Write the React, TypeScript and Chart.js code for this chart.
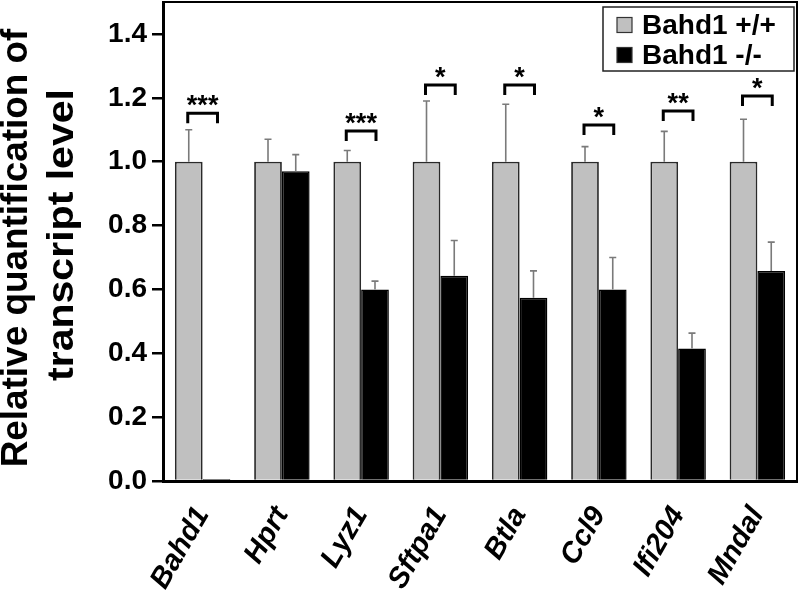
import React, { useEffect, useRef } from "react";
import { Chart, registerables } from "chart.js";

Chart.register(...registerables);

const categories = ["Bahd1", "Hprt", "Lyz1", "Sftpa1", "Btla", "Ccl9", "Ifi204", "Mndal"];
const wildType = [1, 1, 1, 1, 1, 1, 1, 1];
const wildTypeErr = [0.1, 0.07, 0.035, 0.19, 0.18, 0.047, 0.095, 0.133];
const knockout = [0.006, 0.97, 0.6, 0.643, 0.574, 0.6, 0.415, 0.658];
const knockoutErr = [0, 0.052, 0.026, 0.11, 0.084, 0.1, 0.048, 0.09];
const sigLabels = ["***", "", "***", "*", "*", "*", "**", "*"];
const sigHeights = [1.152, null, 1.096, 1.24, 1.24, 1.115, 1.159, 1.206];
const seriesNames = ["Bahd1 +/+", "Bahd1 -/-"];
const yTitle = ["Relative quantification of", "transcript level"];

const FONT = "'Liberation Sans', Arial, sans-serif";

const overlayPlugin = {
  id: "overlay",
  afterDatasetsDraw(chart: any) {
    const ctx = chart.ctx;
    const y = chart.scales.y;
    const metaA = chart.getDatasetMeta(0);
    const metaB = chart.getDatasetMeta(1);
    ctx.save();
    ctx.strokeStyle = "#7a7a7a";
    ctx.lineWidth = 1.6;
    const errs = [wildTypeErr, knockoutErr];
    const vals = [wildType, knockout];
    [metaA, metaB].forEach((meta: any, di: number) => {
      meta.data.forEach((bar: any, i: number) => {
        const e = errs[di][i];
        if (!e) return;
        const top = y.getPixelForValue(vals[di][i] + e);
        const base = y.getPixelForValue(vals[di][i]);
        ctx.beginPath();
        ctx.moveTo(bar.x, base);
        ctx.lineTo(bar.x, top);
        ctx.moveTo(bar.x - 3.5, top);
        ctx.lineTo(bar.x + 3.5, top);
        ctx.stroke();
      });
    });
    ctx.restore();
    ctx.save();
    ctx.strokeStyle = "#000";
    ctx.fillStyle = "#000";
    ctx.lineWidth = 3;
    ctx.lineJoin = "miter";
    ctx.font = `bold 27px ${FONT}`;
    ctx.textAlign = "center";
    ctx.textBaseline = "alphabetic";
    sigHeights.forEach((h, i) => {
      if (h == null) return;
      const x1 = metaA.data[i].x - 1;
      const x2 = metaB.data[i].x + 1;
      const py = y.getPixelForValue(h);
      ctx.beginPath();
      ctx.moveTo(x1, py + 10);
      ctx.lineTo(x1, py);
      ctx.lineTo(x2, py);
      ctx.lineTo(x2, py + 10);
      ctx.stroke();
      ctx.fillText(sigLabels[i], (x1 + x2) / 2, py + 1);
    });
    ctx.restore();
  },
  afterDraw(chart: any) {
    const ctx = chart.ctx;
    const a = chart.chartArea;
    ctx.save();
    ctx.strokeStyle = "#000";
    ctx.lineWidth = 2;
    ctx.beginPath();
    ctx.moveTo(a.left, a.top);
    ctx.lineTo(a.right, a.top);
    ctx.lineTo(a.right, a.bottom);
    ctx.stroke();
    ctx.fillStyle = "#000";
    ctx.font = `bold 36px ${FONT}`;
    ctx.textAlign = "center";
    ctx.textBaseline = "alphabetic";
    const cys = [248, 235];
    const xs = [27, 73];
    const stretch = [1.025, 1.14];
    yTitle.forEach((t, i) => {
      ctx.save();
      ctx.translate(xs[i], cys[i]);
      ctx.rotate(-Math.PI / 2);
      ctx.scale(stretch[i], 1);
      ctx.fillText(t, 0, 0);
      ctx.restore();
    });
    const lx = 603, ly = 7, lw = 191, lh = 64;
    ctx.fillStyle = "#fff";
    ctx.fillRect(lx, ly, lw, lh);
    ctx.strokeStyle = "#222";
    ctx.lineWidth = 1.5;
    ctx.strokeRect(lx, ly, lw, lh);
    const colors = ["#c0c0c0", "#000"];
    ctx.font = `bold 28px ${FONT}`;
    ctx.textAlign = "left";
    ctx.textBaseline = "middle";
    seriesNames.forEach((n, i) => {
      const rowY = 25 + i * 30;
      ctx.fillStyle = colors[i];
      ctx.fillRect(617, rowY - 7.5, 15, 15);
      ctx.strokeStyle = "#333";
      ctx.lineWidth = 1.2;
      ctx.strokeRect(617, rowY - 7.5, 15, 15);
      ctx.fillStyle = "#000";
      ctx.fillText(n, 642, rowY + 1);
    });
    ctx.restore();
  },
};

export default function App() {
  const ref = useRef<HTMLCanvasElement | null>(null);
  useEffect(() => {
    if (!ref.current) return;
    const chart = new Chart(ref.current, {
      type: "bar",
      data: {
        labels: categories,
        datasets: [
          {
            label: seriesNames[0],
            data: wildType,
            backgroundColor: "#c0c0c0",
            borderColor: "#2a2a2a",
            borderWidth: 1.8,
            categoryPercentage: 0.7,
            barPercentage: 1,
          },
          {
            label: seriesNames[1],
            data: knockout,
            backgroundColor: "#000",
            borderColor: "#000",
            borderWidth: 1.5,
            categoryPercentage: 0.7,
            barPercentage: 1,
          },
        ],
      },
      options: {
        animation: false,
        responsive: false,
        maintainAspectRatio: false,
        layout: { padding: { top: 2, right: 3, left: 0, bottom: 0 } },
        plugins: { legend: { display: false }, tooltip: { enabled: false }, title: { display: false } },
        scales: {
          x: {
            type: "category",
            grid: { display: false, drawOnChartArea: false, drawTicks: false },
            border: { display: true, color: "#000", width: 3 },
            ticks: {
              color: "#000",
              font: { family: FONT, size: 29, weight: "bold", style: "italic" },
              minRotation: 60,
              maxRotation: 60,
              padding: 20,
              autoSkip: false,
            },
            afterFit: (s: any) => {
              s.height = 111;
              s.paddingLeft = 0;
              s.paddingRight = 0;
            },
          },
          y: {
            min: 0,
            max: 1.5,
            grid: { drawOnChartArea: false, drawTicks: true, tickLength: 11, color: "#000", lineWidth: 2.5 },
            border: { display: true, color: "#000", width: 3 },
            ticks: {
              stepSize: 0.2,
              color: "#000",
              padding: 5,
              font: { family: FONT, size: 28, weight: "bold" },
              callback: (v: any) => Number(v).toFixed(1),
            },
            afterBuildTicks: (axis: any) => {
              axis.ticks = axis.ticks.filter((t: any) => t.value <= 1.4001);
            },
            afterFit: (s: any) => {
              s.width = 163;
              s.paddingTop = 0;
              s.paddingBottom = 0;
            },
          },
        },
      },
      plugins: [overlayPlugin],
    });
    return () => chart.destroy();
  }, []);
  return (
    <div style={{ position: "absolute", left: 0, top: 0, width: 800, height: 592, background: "#fff" }}>
      <canvas ref={ref} width={800} height={592} style={{ width: 800, height: 592 }} />
    </div>
  );
}
